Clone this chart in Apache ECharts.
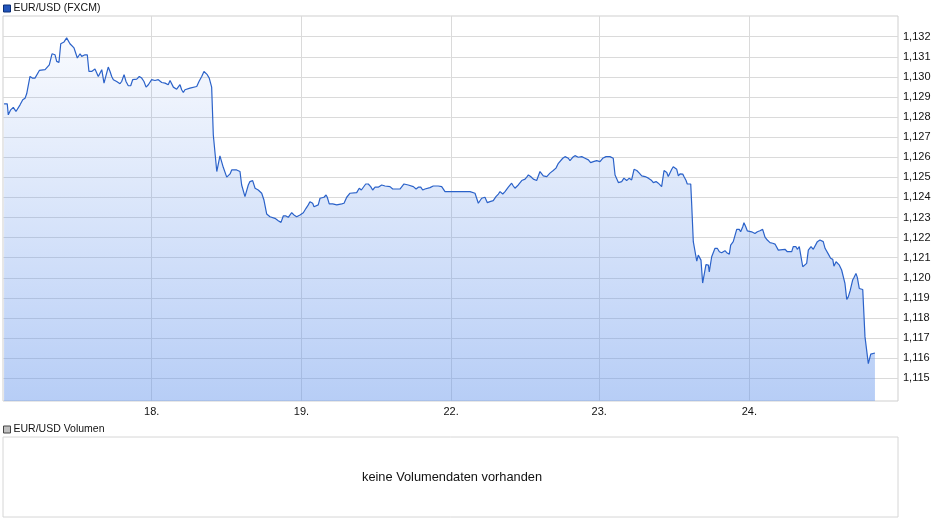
<!DOCTYPE html>
<html>
<head>
<meta charset="utf-8">
<script src="https://cdn.jsdelivr.net/npm/echarts@6/dist/echarts.min.js"></script>
<style>
html,body{margin:0;padding:0;background:#fff;}
#chart{width:940px;height:526px;}
</style>
</head>
<body>
<div id="chart"></div>
<script>
// Trading-day position of each quote (one unit per trading day, weekend skipped)
var times = [
0.032,0.053,0.060,0.076,0.093,0.111,0.124,0.138,0.156,0.171,0.182,0.193,0.204,0.219,0.237,0.248,0.266,0.304,0.315,0.332,
0.341,0.350,0.370,0.381,0.396,0.408,0.430,0.447,0.458,0.469,0.481,0.496,0.509,0.518,0.536,0.547,0.558,0.569,0.584,0.595,
0.613,0.635,0.646,0.657,0.668,0.680,0.686,0.695,0.708,0.723,0.735,0.746,0.757,0.779,0.801,0.812,0.828,0.841,0.856,0.872,
0.885,0.912,0.929,0.945,0.960,0.974,0.989,1.011,1.033,1.055,1.078,1.100,1.121,1.133,1.144,1.155,1.177,1.199,1.210,1.221,
1.232,1.265,1.310,1.325,1.343,1.358,1.370,1.380,1.393,1.409,1.420,1.431,1.443,1.453,1.464,1.476,1.486,1.498,1.509,1.519,
1.531,1.542,1.575,1.597,1.608,1.619,1.630,1.642,1.652,1.663,1.681,1.697,1.718,1.741,1.756,1.763,1.774,1.796,1.829,1.851,
1.869,1.884,1.902,1.917,1.929,1.940,1.955,1.973,1.995,2.017,2.035,2.050,2.061,2.079,2.088,2.095,2.116,2.128,2.154,2.168,
2.176,2.189,2.212,2.239,2.272,2.287,2.305,2.327,2.338,2.371,2.388,2.402,2.415,2.431,2.448,2.464,2.477,2.493,2.514,2.537,
2.548,2.559,2.592,2.610,2.658,2.670,2.685,2.713,2.747,2.765,2.780,2.796,2.809,2.824,2.857,2.879,2.912,2.935,2.946,2.957,
3.123,3.156,3.167,3.178,3.189,3.200,3.222,3.238,3.255,3.277,3.295,3.311,3.322,3.340,3.355,3.377,3.399,3.410,3.421,3.443,
3.466,3.488,3.499,3.510,3.525,3.543,3.565,3.576,3.587,3.598,3.609,3.632,3.653,3.675,3.693,3.709,3.720,3.738,3.753,3.775,
3.786,3.804,3.819,3.831,3.841,3.864,3.886,3.908,3.923,3.941,3.963,3.985,4.003,4.025,4.051,4.073,4.085,4.107,4.129,4.144,
4.162,4.179,4.195,4.211,4.229,4.246,4.262,4.284,4.306,4.328,4.339,4.357,4.372,4.394,4.401,4.410,4.428,4.438,4.449,4.461,
4.471,4.483,4.494,4.505,4.516,4.534,4.542,4.556,4.564,4.587,4.593,4.604,4.615,4.627,4.637,4.648,4.655,4.666,4.677,4.688,
4.704,4.710,4.715,4.726,4.737,4.748,4.763,4.777,4.792,4.814,4.826,4.843,4.852,4.869,4.881,4.892,4.909,4.918,4.932,4.940,
4.952,4.962,4.991,5.013,5.029,5.046,5.064,5.080,5.095,5.113,5.131,5.146,5.157,5.168,5.179,5.212,5.228,5.257,5.267,5.285,
5.294,5.307,5.317,5.330,5.338,5.356,5.367,5.385,5.400,5.411,5.427,5.444,5.456,5.466,5.478,5.489,5.500,5.515,5.529,5.537,
5.551,5.559,5.573,5.588,5.599,5.610,5.622,5.632,5.644,5.655,5.661,5.670,5.683,5.692,5.705,5.728,5.743,5.754,5.765,5.772,
5.781,5.809
];
// EUR/USD quotes
var rates = [
1.12866,1.12866,1.12811,1.12836,1.12848,1.12828,1.12836,1.12861,1.12886,1.12894,1.12916,1.12919,1.13002,1.12994,1.12994,1.13002,1.13032,1.13036,1.13039,1.13060,
1.13069,1.13115,1.13110,1.13077,1.13072,1.13165,1.13174,1.13194,1.13199,1.13165,1.13160,1.13144,1.13135,1.13094,1.13115,1.13102,1.13102,1.13110,1.13110,1.13027,
1.13027,1.13039,1.13036,1.13002,1.13002,1.13036,1.13039,1.12969,1.12969,1.13049,1.13027,1.13002,1.12986,1.12977,1.12966,1.12977,1.13011,1.12977,1.12956,1.12956,
1.12986,1.12989,1.13002,1.12994,1.12977,1.12949,1.12961,1.12986,1.12982,1.12986,1.12972,1.12969,1.12961,1.12982,1.12977,1.12949,1.12939,1.12961,1.12936,1.12922,
1.12936,1.12944,1.12952,1.12977,1.13002,1.13027,1.13027,1.13011,1.12994,1.12949,1.12711,1.12711,1.12529,1.12529,1.12607,1.12607,1.12550,1.12550,1.12501,1.12501,
1.12517,1.12537,1.12537,1.12529,1.12462,1.12462,1.12404,1.12404,1.12462,1.12479,1.12484,1.12446,1.12437,1.12421,1.12387,1.12379,1.12318,1.12304,1.12296,1.12284,
1.12276,1.12308,1.12308,1.12301,1.12304,1.12324,1.12313,1.12304,1.12313,1.12324,1.12346,1.12363,1.12379,1.12371,1.12354,1.12351,1.12363,1.12396,1.12401,1.12412,
1.12401,1.12368,1.12368,1.12363,1.12368,1.12371,1.12401,1.12421,1.12429,1.12424,1.12446,1.12437,1.12442,1.12467,1.12467,1.12454,1.12437,1.12451,1.12451,1.12462,
1.12471,1.12457,1.12454,1.12442,1.12442,1.12451,1.12467,1.12462,1.12454,1.12442,1.12451,1.12451,1.12437,1.12442,1.12449,1.12457,1.12457,1.12454,1.12454,1.12429,
1.12429,1.12421,1.12417,1.12371,1.12374,1.12396,1.12401,1.12374,1.12379,1.12384,1.12404,1.12417,1.12429,1.12417,1.12429,1.12451,1.12471,1.12457,1.12446,1.12462,
1.12484,1.12491,1.12501,1.12512,1.12504,1.12491,1.12484,1.12487,1.12529,1.12526,1.12507,1.12504,1.12521,1.12534,1.12546,1.12570,1.12567,1.12595,1.12603,1.12595,
1.12583,1.12600,1.12608,1.12612,1.12600,1.12603,1.12595,1.12587,1.12573,1.12578,1.12583,1.12578,1.12595,1.12603,1.12603,1.12595,1.12512,1.12474,1.12479,1.12496,
1.12484,1.12496,1.12487,1.12540,1.12534,1.12521,1.12507,1.12504,1.12496,1.12484,1.12474,1.12479,1.12471,1.12454,1.12446,1.12534,1.12524,1.12504,1.12504,1.12540,
1.12553,1.12562,1.12540,1.12507,1.12517,1.12516,1.12504,1.12484,1.12467,1.12467,1.12371,1.12180,1.12175,1.12083,1.12113,1.12122,1.12088,1.11974,1.11974,1.12066,
1.12063,1.12030,1.12030,1.12105,1.12108,1.12147,1.12147,1.12130,1.12125,1.12135,1.12125,1.12118,1.12163,1.12180,1.12185,1.12241,1.12241,1.12229,1.12254,1.12274,
1.12254,1.12234,1.12229,1.12221,1.12229,1.12234,1.12241,1.12202,1.12188,1.12175,1.12172,1.12168,1.12175,1.12138,1.12138,1.12142,1.12130,1.12130,1.12155,1.12155,
1.12142,1.12155,1.12152,1.12055,1.12055,1.12072,1.12138,1.12155,1.12142,1.12138,1.12180,1.12188,1.12192,1.12180,1.12147,1.12138,1.12118,1.12097,1.12092,1.12058,
1.12080,1.12080,1.12063,1.12039,1.12035,1.11972,1.11892,1.11905,1.11935,1.11942,1.11989,1.12002,1.12022,1.12002,1.11947,1.11942,1.11706,1.11703,1.11573,1.11573,
1.11620,1.11626
];
// x-axis day marks
var dayTickValues = [1.011, 2.005, 2.997, 3.980, 4.976];
var dayTickLabels = ['18.', '19.', '22.', '23.', '24.'];
// y-axis ticks
var rateTicks = [1.115,1.116,1.117,1.118,1.119,1.120,1.121,1.122,1.123,1.124,1.125,1.126,1.127,1.128,1.129,1.130,1.131,1.132];
// volume: none available
var volumes = [];

var seriesName = 'EUR/USD (FXCM)';
var volName = 'EUR/USD Volumen';
var noVolText = 'keine Volumendaten vorhanden';

var chart = echarts.init(document.getElementById('chart'), null, {renderer: 'canvas'});
var font = 'Arial, "Liberation Sans", sans-serif';

var option = {
  animation: false,
  backgroundColor: '#ffffff',
  textStyle: {fontFamily: font},
  legend: [
    {
      data: [seriesName], left: 0, top: 1, padding: [2, 2, 2, 3],
      icon: 'rect', itemWidth: 7, itemHeight: 7, itemGap: 4,
      itemStyle: {color: '#2255bb', borderColor: '#0b2e77', borderWidth: 1},
      textStyle: {fontSize: 10.5, color: '#111', fontFamily: font, padding: [0, 0, 0, -2]},
      selectedMode: false
    },
    {
      data: [volName], left: 0, top: 422, padding: [2, 2, 2, 3],
      icon: 'rect', itemWidth: 7, itemHeight: 7,
      itemStyle: {color: '#c0c0c0', borderColor: '#444', borderWidth: 1},
      textStyle: {fontSize: 10.5, color: '#111', fontFamily: font, padding: [0, 0, 0, -2]},
      selectedMode: false
    }
  ],
  grid: [
    {left: 3, right: 42, top: 16, bottom: 125, show: true, borderColor: '#cfcfcf', borderWidth: 1, containLabel: false},
    {left: 3, right: 42, top: 437, height: 80, show: true, borderColor: '#d6d6d6', borderWidth: 1, containLabel: false}
  ],
  xAxis: [
    {
      type: 'value', gridIndex: 0, min: 0.0249, max: 5.9619,
      axisLine: {show: false}, axisTick: {show: false, customValues: dayTickValues},
      axisLabel: {
        customValues: dayTickValues, margin: 5, fontSize: 11, color: '#111', fontFamily: font,
        formatter: function (v) {
          var best = 0;
          for (var i = 1; i < dayTickValues.length; i++) {
            if (Math.abs(dayTickValues[i] - v) < Math.abs(dayTickValues[best] - v)) best = i;
          }
          return dayTickLabels[best];
        }
      },
      splitLine: {show: true, lineStyle: {color: '#dadada', width: 1}}
    },
    {type: 'value', gridIndex: 1, min: 0, max: 1, show: false}
  ],
  yAxis: [
    {
      type: 'value', gridIndex: 0, position: 'right', min: 1.11387, max: 1.13303, scale: true,
      axisLine: {show: false}, axisTick: {show: false, customValues: rateTicks},
      axisLabel: {
        customValues: rateTicks, margin: 5, fontSize: 11, color: '#111', fontFamily: font,
        formatter: function (v) { return v.toFixed(3).replace('.', ','); }
      },
      splitLine: {show: true, lineStyle: {color: '#dadada', width: 1}}
    },
    {type: 'value', gridIndex: 1, min: 0, max: 1, show: false}
  ],
  series: [
    {
      name: seriesName, type: 'line', xAxisIndex: 0, yAxisIndex: 0,
      data: times.map(function (t, i) { return [t, rates[i]]; }),
      showSymbol: false, symbol: 'none', smooth: false,
      lineStyle: {color: '#2b62c9', width: 1.2},
      itemStyle: {color: '#2255bb'},
      areaStyle: {
        origin: 'start', opacity: 1,
        color: new echarts.graphic.LinearGradient(0, 0, 0, 1, [
          {offset: 0, color: 'rgba(95,145,235,0.04)'},
          {offset: 1, color: 'rgba(95,145,235,0.45)'}
        ])
      }
    },
    {
      name: volName, type: 'bar', xAxisIndex: 1, yAxisIndex: 1,
      data: volumes, itemStyle: {color: '#c0c0c0'}
    }
  ],
  graphic: [
    {
      type: 'text', x: 452, y: 477, silent: true,
      style: {text: noVolText, x: 0, y: 0, align: 'center', verticalAlign: 'middle', fill: '#111',
              font: '12.8px Arial, "Liberation Sans", sans-serif'}
    }
  ]
};
chart.setOption(option);
</script>
</body>
</html>
